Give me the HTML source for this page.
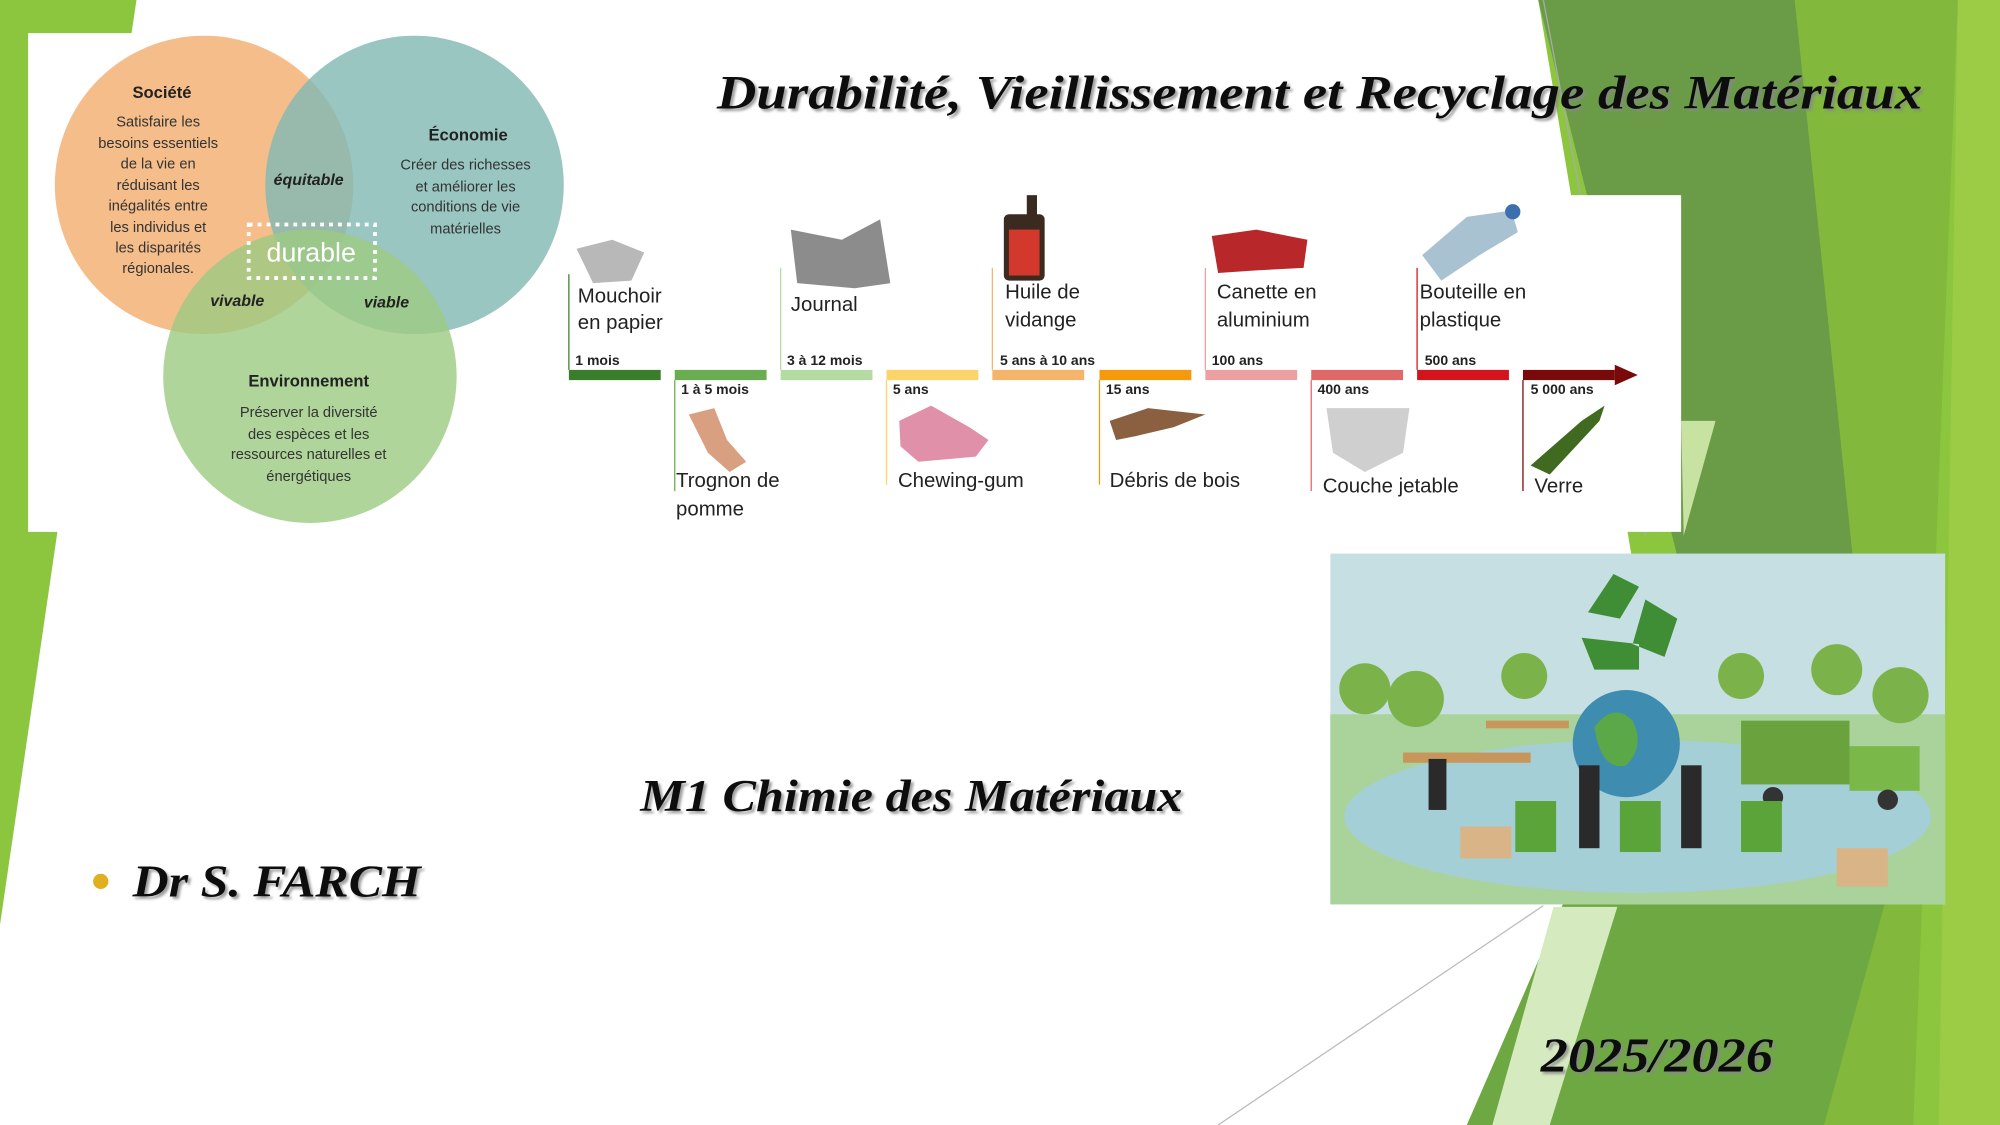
<!DOCTYPE html>
<html><head><meta charset="utf-8"><style>
html,body{margin:0;padding:0;background:#fff;}
svg{display:block;}
.t{font-family:"Liberation Sans",sans-serif;}
.s{font-family:"Liberation Serif",serif;font-weight:bold;font-style:italic;}
</style></head><body>
<svg width="2000" height="1125" viewBox="0 0 1568 882" preserveAspectRatio="none" xmlns="http://www.w3.org/2000/svg">
<defs><filter id="sh"><feDropShadow dx="2" dy="2" stdDeviation="1" flood-color="#888" flood-opacity="0.8"/></filter></defs>
<rect width="1568" height="882" fill="#fff"/>
<!-- right background -->
<polygon points="1206,0 1568,0 1568,882 1150,882 1300,560" fill="#8cc63f"/>
<polygon points="1407,0 1535,0 1500,882 1420,882" fill="#82b83c"/>
<polygon points="1206,0 1407,0 1480,700 1316,440" fill="#6a9b47"/>
<polygon points="1290,560 1480,700 1430,882 1150,882" fill="#6ea843"/>
<polygon points="1318,330 1345,330 1320,420" fill="#c8e2a2"/>
<polygon points="1218,711 1268,711 1215,882 1170,882" fill="#d6eac0"/>
<polygon points="1535,0 1568,0 1568,882 1520,882" fill="#9ccc45"/>
<line x1="955" y1="882" x2="1210" y2="710" stroke="#bbb" stroke-width="1"/>
<line x1="1210" y1="0" x2="1290" y2="420" stroke="#aaa" stroke-width="1"/>
<!-- left green -->
<polygon points="0,0 107,0 45,417 0,725" fill="#8cc63f"/>
<!-- venn box -->
<rect x="22" y="26" width="423" height="391" fill="#fff"/>
<circle cx="160" cy="145" r="117" fill="#f5bd8a"/>
<circle cx="325" cy="145" r="117" fill="#84b9b3" opacity="0.82"/>
<circle cx="243" cy="295" r="115" fill="#9ccb82" opacity="0.8"/>
<g class="t" text-anchor="middle" fill="#333">
<text x="127" y="77" font-size="13" font-weight="bold" fill="#222">Société</text>
<g font-size="11.5"><text x="124" y="99">Satisfaire les</text><text x="124" y="116">besoins essentiels</text><text x="124" y="132">de la vie en</text><text x="124" y="149">réduisant les</text><text x="124" y="165">inégalités entre</text><text x="124" y="182">les individus et</text><text x="124" y="198">les disparités</text><text x="124" y="214">régionales.</text></g>
<text x="367" y="110" font-size="13" font-weight="bold" fill="#222">Économie</text>
<g font-size="11.5"><text x="365" y="133">Créer des richesses</text><text x="365" y="150">et améliorer les</text><text x="365" y="166">conditions de vie</text><text x="365" y="183">matérielles</text></g>
<text x="242" y="303" font-size="13" font-weight="bold" fill="#222">Environnement</text>
<g font-size="11.5"><text x="242" y="327">Préserver la diversité</text><text x="242" y="344">des espèces et les</text><text x="242" y="360">ressources naturelles et</text><text x="242" y="377">énergétiques</text></g>
<g font-size="12.5" font-weight="bold" font-style="italic" fill="#222"><text x="242" y="145">équitable</text><text x="186" y="240">vivable</text><text x="303" y="241">viable</text></g>
<rect x="195" y="176" width="99" height="42" fill="none" stroke="#fff" stroke-width="3" stroke-dasharray="3,4"/>
<text x="244" y="205" font-size="21" fill="#fff">durable</text>
</g>
<!-- timeline box -->
<rect x="445" y="153" width="873" height="264" fill="#fff"/>
<g class="t" font-size="16" fill="#222">
<text x="453" y="237">Mouchoir</text><text x="453" y="258">en papier</text>
<text x="620" y="244">Journal</text>
<text x="788" y="234">Huile de</text><text x="788" y="256">vidange</text>
<text x="954" y="234">Canette en</text><text x="954" y="256">aluminium</text>
<text x="1113" y="234">Bouteille en</text><text x="1113" y="256">plastique</text>
<text x="530" y="382">Trognon de</text><text x="530" y="404">pomme</text>
<text x="704" y="382">Chewing-gum</text>
<text x="870" y="382">Débris de bois</text>
<text x="1037" y="386">Couche jetable</text>
<text x="1203" y="386">Verre</text>
</g>
<g class="t" font-size="11" font-weight="bold" fill="#222">
<text x="451" y="286">1 mois</text><text x="617" y="286">3 à 12 mois</text><text x="784" y="286">5 ans à 10 ans</text><text x="950" y="286">100 ans</text><text x="1117" y="286">500 ans</text>
<text x="534" y="309">1 à 5 mois</text><text x="700" y="309">5 ans</text><text x="867" y="309">15 ans</text><text x="1033" y="309">400 ans</text><text x="1200" y="309">5 000 ans</text>
</g>
<rect x="446" y="290" width="72" height="8" fill="#3a7d2a"/>
<rect x="529" y="290" width="72" height="8" fill="#6aad50"/>
<rect x="612" y="290" width="72" height="8" fill="#b5dca0"/>
<rect x="695" y="290" width="72" height="8" fill="#fbd46a"/>
<rect x="778" y="290" width="72" height="8" fill="#f6b46a"/>
<rect x="862" y="290" width="72" height="8" fill="#f59a0c"/>
<rect x="945" y="290" width="72" height="8" fill="#eea0a0"/>
<rect x="1028" y="290" width="72" height="8" fill="#e06868"/>
<rect x="1111" y="290" width="72" height="8" fill="#d4141c"/>
<rect x="1194" y="290" width="72" height="8" fill="#7a0a0a"/>
<polygon points="1266,286 1284,294 1266,302" fill="#7a0a0a"/>
<g stroke-width="1">
<line x1="446" y1="215" x2="446" y2="290" stroke="#3a7d2a"/><line x1="612" y1="210" x2="612" y2="290" stroke="#b5dca0"/><line x1="778" y1="210" x2="778" y2="290" stroke="#f6b46a"/><line x1="945" y1="210" x2="945" y2="290" stroke="#eea0a0"/><line x1="1111" y1="210" x2="1111" y2="290" stroke="#d4141c"/>
<line x1="529" y1="298" x2="529" y2="385" stroke="#6aad50"/><line x1="695" y1="298" x2="695" y2="380" stroke="#fbd46a"/><line x1="862" y1="298" x2="862" y2="380" stroke="#f59a0c"/><line x1="1028" y1="298" x2="1028" y2="385" stroke="#e06868"/><line x1="1194" y1="298" x2="1194" y2="385" stroke="#7a0a0a"/>
</g>
<!-- icons -->
<polygon points="452,195 480,188 505,198 495,220 465,222" fill="#b8b8b8"/>
<polygon points="620,180 660,188 690,172 698,222 670,226 625,222" fill="#8c8c8c"/>
<rect x="787" y="168" width="32" height="52" rx="4" fill="#3a2a20"/><rect x="805" y="153" width="8" height="18" fill="#3a2a20"/><rect x="791" y="180" width="24" height="36" fill="#d2392c"/>
<polygon points="950,185 985,180 1025,188 1022,210 985,212 955,214" fill="#b8282a"/>
<polygon points="1115,200 1150,170 1185,165 1190,182 1160,200 1130,220" fill="#a9c2d2"/><circle cx="1186" cy="166" r="6" fill="#3d6fb0"/>
<polygon points="540,325 560,320 570,345 585,362 572,370 555,355" fill="#d8a080"/>
<polygon points="705,330 730,318 760,335 775,345 765,358 720,362 706,350" fill="#e090a8"/>
<polygon points="870,330 900,320 945,325 920,335 890,342 875,345" fill="#8a6040"/>
<path d="M1040,320 L1105,320 L1100,355 L1070,370 L1045,355 Z" fill="#cfcfcf"/>
<polygon points="1200,365 1240,330 1258,318 1254,330 1215,372" fill="#3f6a20"/>
<!-- titles -->
<text class="s" x="562" y="85" font-size="37" textLength="945" lengthAdjust="spacingAndGlyphs" fill="#111" filter="url(#sh)">Durabilité, Vieillissement et  Recyclage des Matériaux</text>
<text class="s" x="502" y="636" font-size="36" textLength="425" lengthAdjust="spacingAndGlyphs" fill="#111" filter="url(#sh)">M1 Chimie des Matériaux</text>
<circle cx="79" cy="691" r="6" fill="#e0b020"/>
<text class="s" x="104" y="703" font-size="36" textLength="226" lengthAdjust="spacingAndGlyphs" fill="#111" filter="url(#sh)">Dr S. FARCH</text>
<text class="s" x="1208" y="840" font-size="38" textLength="182" lengthAdjust="spacingAndGlyphs" fill="#111" filter="url(#sh)">2025/2026</text>
<!-- picture -->
<rect x="1043" y="434" width="482" height="275" fill="#c6dfe2"/>
<rect x="1043" y="560" width="482" height="149" fill="#a9d39a"/>
<ellipse cx="1284" cy="640" rx="230" ry="60" fill="#a5cfd6"/>
<g fill="#7cb24a"><circle cx="1070" cy="540" r="20"/><circle cx="1110" cy="548" r="22"/><circle cx="1195" cy="530" r="18"/><circle cx="1365" cy="530" r="18"/><circle cx="1440" cy="525" r="20"/><circle cx="1490" cy="545" r="22"/></g>
<circle cx="1275" cy="583" r="42" fill="#3e8cb0"/><path d="M1250,570 q15,-20 30,-5 q10,20 -5,35 q-20,5 -25,-30z" fill="#5aa848"/>
<path d="M1245,480 l20,-30 l20,10 l-15,25z M1290,470 l25,15 l-10,30 l-25,-10z M1240,500 l10,25 l35,0 l0,-20z" fill="#3f8d35"/>
<rect x="1365" y="565" width="85" height="50" fill="#6aa23e"/><rect x="1450" y="585" width="55" height="35" fill="#7ab84a"/>
<circle cx="1390" cy="625" r="8" fill="#333"/><circle cx="1480" cy="627" r="8" fill="#333"/>
<rect x="1100" y="590" width="100" height="8" fill="#c8955a"/><rect x="1165" y="565" width="65" height="6" fill="#c8955a"/>
<g fill="#5ba43a"><rect x="1188" y="628" width="32" height="40"/><rect x="1270" y="628" width="32" height="40"/><rect x="1365" y="628" width="32" height="40"/></g>
<g fill="#2a2a2a"><rect x="1238" y="600" width="16" height="65"/><rect x="1318" y="600" width="16" height="65"/><rect x="1120" y="595" width="14" height="40"/></g>
<rect x="1145" y="648" width="40" height="25" fill="#d8b486"/><rect x="1440" y="665" width="40" height="30" fill="#d8b486"/>
</svg>
</body></html>
